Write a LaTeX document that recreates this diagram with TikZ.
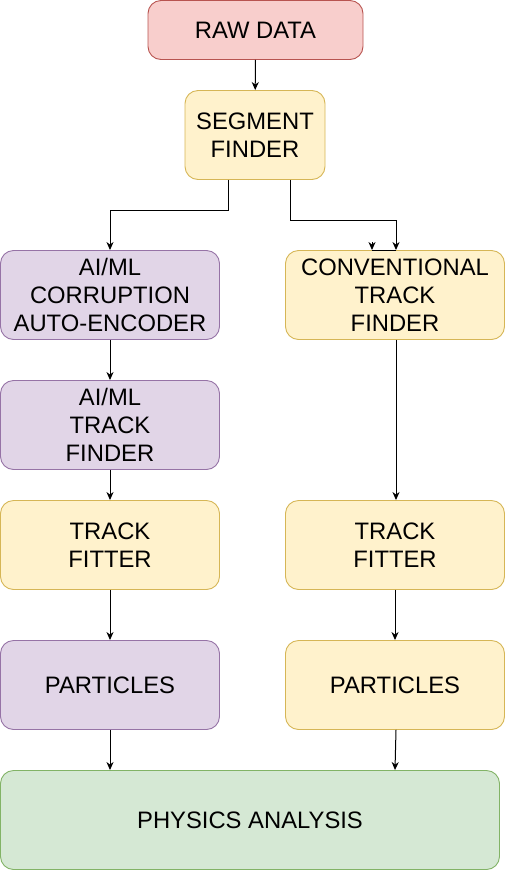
\documentclass[tikz,border=0pt]{standalone}
\usepackage{fontspec}
\setmainfont{Liberation Sans}
\usetikzlibrary{arrows.meta}
\definecolor{redF}{HTML}{F8CECC}\definecolor{redD}{HTML}{B85450}
\definecolor{yelF}{HTML}{FFF2CC}\definecolor{yelD}{HTML}{D6B656}
\definecolor{purF}{HTML}{E1D5E7}\definecolor{purD}{HTML}{9673A6}
\definecolor{grnF}{HTML}{D5E8D4}\definecolor{grnD}{HTML}{82B366}
\begin{document}
\begin{tikzpicture}[x=1pt,y=-1pt,
  box/.style={draw, rounded corners=13pt, line width=0.9pt, minimum width=219pt, minimum height=89pt, align=center, inner sep=0pt, font=\fontsize{23.8}{28}\selectfont},
  redbox/.style={box, fill=redF, draw=redD},
  yelbox/.style={box, fill=yelF, draw=yelD},
  purbox/.style={box, fill=purF, draw=purD},
  grnbox/.style={box, fill=grnF, draw=grnD},
  arr/.style={-{Stealth[length=8pt,width=7pt,inset=2.5pt]}, line width=1pt}]
\useasboundingbox (0,0) rectangle (506,871);
\node[redbox, minimum width=215pt, minimum height=59pt] (raw) at (255.5,30) {RAW DATA};
\node[yelbox, minimum width=140pt] (seg) at (255,135) {SEGMENT\\FINDER};
\node[purbox] (ae) at (110,295) {AI/ML\\CORRUPTION\\AUTO-ENCODER};
\node[yelbox] (ctf) at (395,295) {CONVENTIONAL\\TRACK\\FINDER};
\node[purbox] (atf) at (110,425) {AI/ML\\TRACK\\FINDER};
\node[yelbox] (lfit) at (110,545) {TRACK\\FITTER};
\node[yelbox] (rfit) at (395,545) {TRACK\\FITTER};
\node[purbox] (lpart) at (110,685) {PARTICLES};
\node[yelbox] (rpart) at (395,685) {PARTICLES};
\node[grnbox, minimum width=499pt, minimum height=99pt] (phys) at (250,820) {PHYSICS ANALYSIS};
\draw[arr] (raw) -- (seg);
\draw[arr] ([xshift=-27pt]seg.south) |- (110,210) -- (ae.north);
\draw[arr] ([xshift=35pt]seg.south) |- (396,220) -- ([xshift=1pt]ctf.north);
\draw[line width=1pt] ([xshift=1pt]ctf.north) -- ++(-24,0) coordinate (kink);
\draw[arr] ([yshift=8pt]kink) -- (kink);
\draw[arr] (ae) -- (atf);
\draw[arr] (atf) -- (lfit);
\draw[arr] ([xshift=1pt]ctf.south) -- ([xshift=1pt]rfit.north);
\draw[arr] (lfit) -- (lpart);
\draw[arr] (rfit) -- (rpart);
\draw[arr] (lpart.south) -- (lpart.south |- phys.north);
\draw[arr] ([xshift=1pt]rpart.south) -- (rpart.south |- phys.north);
\end{tikzpicture}
\end{document}
